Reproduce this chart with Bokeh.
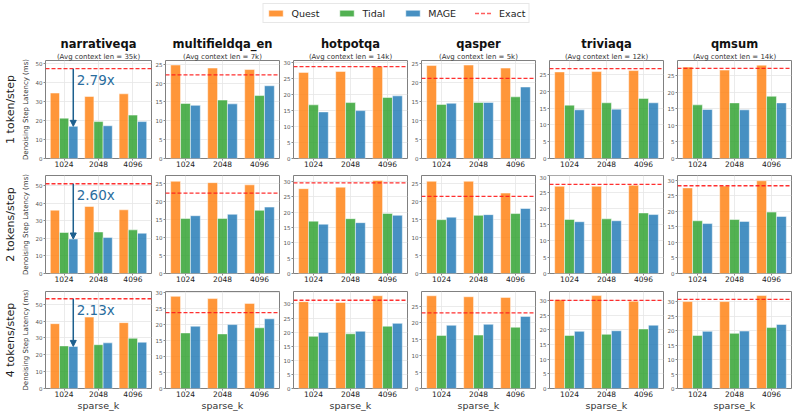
import numpy as np
from bokeh.plotting import figure
from bokeh.models import (Range1d, FixedTicker, SingleIntervalTicker, Span, Arrow,
                          NormalHead, Title, Legend, LegendItem, ColumnDataSource)
from bokeh.layouts import column, row
from bokeh.embed import file_html
from bokeh.resources import INLINE
from bokeh.core.properties import value

# ---------------- data ----------------
datasets = ["narrativeqa", "multifieldqa_en", "hotpotqa", "qasper", "triviaqa", "qmsum"]
context_len = ["35k", "7k", "14k", "5k", "12k", "14k"]
steps = ["1 token/step", "2 tokens/step", "4 tokens/step"]
sparse_k = ["1024", "2048", "4096"]
methods = ["Quest", "Tidal", "MAGE"]

# 1 token/step
quest_1 = [[34.4, 32.6, 34.0], [24.8, 24.0, 23.6], [26.8, 27.1, 28.6],
           [24.6, 24.7, 23.9], [25.8, 25.9, 26.2], [27.6, 26.7, 28.2]]
tidal_1 = [[21.2, 19.4, 22.8], [14.6, 15.5, 16.7], [16.7, 17.4, 19.0],
           [14.3, 14.8, 16.3], [15.9, 16.6, 17.9], [16.2, 16.8, 18.8]]
mage_1 = [[16.9, 17.2, 19.4], [14.1, 14.5, 19.3], [14.5, 14.9, 19.5],
          [14.6, 14.8, 18.9], [14.5, 14.7, 16.6], [14.8, 14.7, 16.8]]
exact_1 = [47.2, 22.2, 28.6, 21.2, 26.8, 27.2]

# 2 tokens/step
quest_2 = [[36.0, 38.1, 36.2], [25.7, 25.3, 24.7], [27.7, 28.2, 30.4],
           [25.7, 25.7, 22.4], [26.8, 26.8, 27.1], [27.6, 28.2, 29.9]]
tidal_2 = [[23.3, 23.6, 24.8], [15.3, 15.3, 17.6], [17.1, 17.9, 19.6],
           [15.0, 16.2, 16.7], [16.6, 16.8, 18.6], [17.0, 17.4, 19.8]]
mage_2 = [[19.6, 20.4, 22.9], [16.1, 16.5, 18.5], [16.1, 16.6, 19.0],
          [15.7, 16.4, 18.1], [15.9, 16.2, 18.1], [16.1, 16.8, 18.4]]
exact_2 = [51.0, 22.4, 29.6, 21.5, 27.4, 28.3]

# 4 tokens/step
quest_4 = [[38.5, 42.4, 39.1], [28.7, 28.0, 26.5], [30.8, 30.5, 32.9],
           [28.3, 28.0, 27.8], [30.3, 31.7, 29.8], [30.1, 30.1, 32.2]]
tidal_4 = [[25.3, 26.0, 29.8], [17.3, 17.0, 18.9], [18.5, 19.4, 22.1],
           [16.2, 16.3, 18.7], [18.1, 18.5, 20.3], [18.4, 19.1, 21.1]]
mage_4 = [[25.0, 27.1, 27.5], [19.4, 19.9, 21.7], [19.9, 20.3, 23.1],
          [19.3, 19.6, 22.0], [19.5, 19.7, 21.6], [19.8, 19.9, 22.2]]
exact_4 = [53.3, 23.6, 31.3, 23.1, 30.1, 30.9]

speedup_labels = ["2.79x", "2.60x", "2.13x"]

# axis upper limits
y_top_1 = [51.5, 26.0, 30.5, 25.9, 29.2, 29.6]
y_top_2 = [55.7, 27.3, 32.0, 27.3, 30.1, 31.6]
y_top_4 = [57.6, 30.2, 34.4, 29.6, 33.1, 33.6]

quest = [quest_1, quest_2, quest_4]
tidal = [tidal_1, tidal_2, tidal_4]
mage = [mage_1, mage_2, mage_4]
exact = [exact_1, exact_2, exact_4]
y_top = [y_top_1, y_top_2, y_top_4]

# ---------------- style ----------------
FONT = "DejaVu Sans"
COLORS = ["#ff7f0e", "#2ca02c", "#1f77b4"]
EXACT_COLOR = "#ff1a1a"
ARROW_COLOR = "#1c5f8e"
TEXT_COLOR = "#2a6d9e"
BAR_W = 0.267
FW, FH = 114, 98
TOP_B = [36, 1, 2]
BOT_B = [16, 16, 24]


def add_bars(p, vals_list):
    xs = np.arange(len(sparse_k))
    offsets = [-BAR_W, 0.0, BAR_W]
    rends = []
    for vals, off, col in zip(vals_list, offsets, COLORS):
        src = ColumnDataSource(dict(x=xs + off, top=vals))
        rends.append(p.vbar(x="x", top="top", bottom=0, width=BAR_W, source=src,
                            fill_color=col, fill_alpha=0.82, line_color="white",
                            line_alpha=0.55, line_width=0.9))
    return rends


def make_panel(r, c):
    top_b = TOP_B[r]
    bot_b = BOT_B[r]
    left_b = 37 if c == 0 else 13
    p = figure(width=left_b + FW + 1, height=top_b + FH + bot_b,
               x_range=Range1d(-0.54, 2.54), y_range=Range1d(0, y_top[r][c]),
               toolbar_location=None, output_backend="svg", title=None,
               min_border_left=left_b, min_border_right=1,
               min_border_top=top_b, min_border_bottom=bot_b)
    p.outline_line_color = "#808080"
    p.outline_line_width = 1
    p.background_fill_color = "white"

    add_bars(p, [quest[r][c], tidal[r][c], mage[r][c]])

    p.add_layout(Span(location=exact[r][c], dimension="width",
                      line_color=EXACT_COLOR, line_dash="4 2", line_width=1.3,
                      line_alpha=0.9))

    # axes
    p.xaxis.ticker = FixedTicker(ticks=list(range(len(sparse_k))))
    p.xaxis.major_label_overrides = {i: k for i, k in enumerate(sparse_k)}
    p.yaxis.ticker = SingleIntervalTicker(interval=10 if c == 0 else 5,
                                          num_minor_ticks=0)
    for ax in (p.xaxis, p.yaxis):
        ax.axis_line_color = None
        ax.minor_tick_line_color = None
        ax.major_tick_line_color = "#888888"
        ax.major_tick_out = 2
        ax.major_tick_in = 0
        ax.major_label_text_font = FONT
    p.xaxis.major_label_text_font_size = "7.5px"
    p.xaxis.major_label_text_color = "#222222"
    p.xaxis.major_label_standoff = 0
    p.yaxis.major_label_text_font_size = "5.5px"
    p.yaxis.major_label_text_color = "#555555"
    p.yaxis.major_label_standoff = 1

    p.grid.grid_line_color = "#e6e6e6"
    p.grid.grid_line_width = 0.8

    if r == 2:
        p.xaxis.axis_label = "sparse_k"
        p.xaxis.axis_label_text_font = FONT
        p.xaxis.axis_label_text_font_size = "9.5px"
        p.xaxis.axis_label_text_font_style = "normal"
        p.xaxis.axis_label_text_color = "#333333"
        p.xaxis.axis_label_standoff = 0

    if c == 0:
        p.yaxis.axis_label = "Denoising Step Latency (ms)"
        p.yaxis.axis_label_text_font = FONT
        p.yaxis.axis_label_text_font_size = "7px"
        p.yaxis.axis_label_text_font_style = "normal"
        p.yaxis.axis_label_text_color = "#333333"
        p.yaxis.axis_label_standoff = 3
        p.add_layout(Title(text=steps[r], align="center", text_font=FONT,
                           text_font_size="11px", text_font_style="normal",
                           text_color="#222222", standoff=3), "left")
        # speedup arrow: from the Exact line down to MAGE @ sparse_k=1024
        xm = 0 + BAR_W
        e = exact[r][0]
        m = mage[r][0][0]
        p.add_layout(Arrow(x_start=xm, y_start=e, x_end=xm, y_end=m,
                           line_color=ARROW_COLOR, line_width=1.5,
                           end=NormalHead(size=6, fill_color=ARROW_COLOR,
                                          line_color=ARROW_COLOR)))
        p.text(x=[xm + 0.1], y=[e * 0.87], text=[speedup_labels[r]],
               text_font=value(FONT), text_font_size="13.5px",
               text_color=TEXT_COLOR, text_baseline="middle", text_align="left")

    if r == 0:
        p.add_layout(Title(text=f"(Avg context len = {context_len[c]})",
                           align="center", text_font=FONT, text_font_size="7px",
                           text_font_style="normal", text_color="#333333",
                           standoff=0), "above")
        p.add_layout(Title(text=datasets[c], align="center", text_font=FONT,
                           text_font_size="11.5px", text_font_style="bold",
                           text_color="#111111", standoff=0), "above")
    return p


# ---------------- legend (its renderers are hidden; only the key is shown) ----
leg = figure(width=792, height=24, x_range=Range1d(-0.54, 2.54),
             y_range=Range1d(0, 1),
             toolbar_location=None, output_backend="svg", title=None,
             x_axis_location=None, y_axis_location=None, min_border=0)
leg.grid.visible = False
leg.outline_line_color = None
leg_rends = add_bars(leg, [quest_1[0], tidal_1[0], mage_1[0]])
lr = leg.line(x=np.arange(len(sparse_k)), y=[exact_1[0]] * len(sparse_k),
              line_color=EXACT_COLOR, line_dash="4 2", line_width=1.5, line_alpha=0.7)
leg_rends.append(lr)
for rr in leg_rends:
    rr.visible = False
items = [LegendItem(label=name, renderers=[rr])
         for name, rr in zip(methods + ["Exact"], leg_rends)]
legend = Legend(items=items, orientation="horizontal", location="top_center",
                glyph_width=18, glyph_height=8, label_height=12,
                label_text_font=FONT, label_text_font_size="9.5px",
                label_text_color="#222222", spacing=18, label_standoff=7,
                padding=3, margin=3, border_line_color="#d0d0d0",
                border_line_width=1, background_fill_color="white",
                inactive_fill_alpha=0.0)
leg.add_layout(legend, "center")

rows = [row(*[make_panel(r, c) for c in range(len(datasets))]) for r in range(3)]
layout = column(leg, *rows)

open("out.html", "w").write(file_html(layout, INLINE))
